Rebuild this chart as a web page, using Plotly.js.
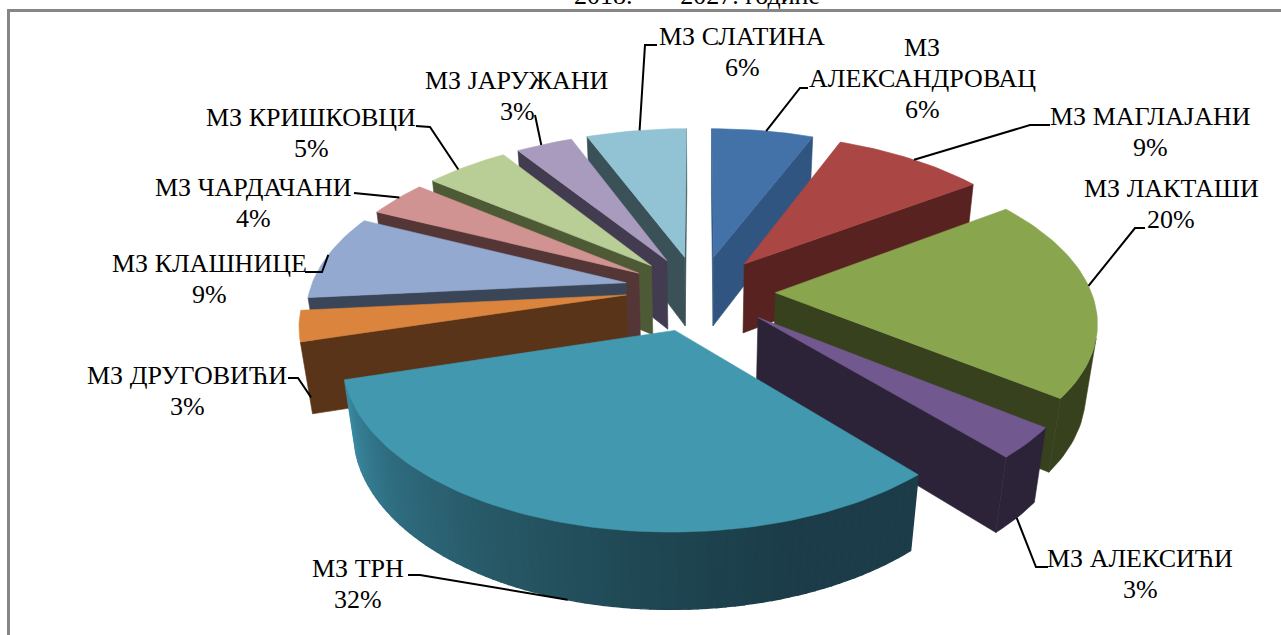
<!DOCTYPE html>
<html><head><meta charset="utf-8">
<script src="https://cdn.plot.ly/plotly-3.0.1.min.js"></script>
<style>html,body{margin:0;padding:0;background:#fff;overflow:hidden}</style>
</head><body><div id="chart" style="width:1281px;height:635px"></div>
<script>
// ---- data ----
const names = [['МЗ','АЛЕКСАНДРОВАЦ'],['МЗ МАГЛАЈАНИ'],['МЗ ЛАКТАШИ'],['МЗ АЛЕКСИЋИ'],['МЗ ТРН'],['МЗ ДРУГОВИЋИ'],['МЗ КЛАШНИЦЕ'],['МЗ ЧАРДАЧАНИ'],['МЗ КРИШКОВЦИ'],['МЗ ЈАРУЖАНИ'],['МЗ СЛАТИНА']];
const values = [6.1,9.1,20.2,3.1,32,3,8.5,3.6,5,3.4,6];
const titleText = '2018.\u00A0\u00A0\u00A0-\u00A0\u00A0\u00A02027. године';
// ---- style ----
const topColors  = ['#4372A8','#AA4643','#89A54E','#71588F','#4198AF','#DB843D','#93A9CF','#D19392','#B9CD96','#A99BBD','#92C3D4'];
const sideColors = ['#305580','#582220','#37411D','#2D2339','#1B3C48','#5A3418','#3B4558','#553636','#4E5A36','#433C50','#3A5158'];
const gradient   = ['#3A8BA2','#2F6C80','#275866','#1F4854','#1B3C48','#1B3C48'];
// ---- layout of the drawing ----
const explode = [.23,.23,.23,.23,.23,.23,.23,.23,.23,.23,.23];
const radius  = [1,1,.99,.98,.99,1,.99,1,1,1,1];
const shiftX = [0,0,2,3,-4,-1,-2,0,0,0,-2];
const shiftY = [0,0,0,0,2,-4,-3,0,0,0,0];
const view = {cx:700,cy:292,A:319,B:159,D:72,p:.158,q:.03};
const labelX = [922,1150,1171,1140,358,187,209,253,311,517,742];
const labelY = [47,116,188,558,568,375,263,187,117,80,36];
const lineGap = 31;
const elbowA = [[808,88],[1050,125],[1145,228],[1048,567],[408,575],[288,378],[305,272],[354,193],[416,126],[535,115],[657,45]];
const elbowB = [[800,88],[1030,125],[1135,228],[1036,567],[420,575],[298,378],[322,272],[385,196],[430,127],[535,115],[645,45]];
const anchors= [.5,.5,.46,.5,.5,.5,.5,.5,.42,.42,.5];

function project(X,Y,z,i){
  const w = 1 + view.p*Y + view.q*z;
  return [view.cx + shiftX[i] + view.A*X/w, view.cy + shiftY[i] - view.B*Y/w + view.D*z/w];
}
function hex(c){return [1,3,5].map(i=>parseInt(c.substr(i,2),16));}
function lerp(stops,t){
  const f=Math.min(.9999,Math.max(0,t))*(stops.length-1), i=Math.floor(f), a=hex(stops[i]), b=hex(stops[i+1]);
  return 'rgb('+a.map((v,k)=>Math.round(v+(b[k]-v)*(f-i))).join(',')+')';
}
function poly(pts,color,w){
  return {type:'scatter',mode:'lines',x:pts.map(p=>p[0]).concat(pts[0][0]),y:pts.map(p=>p[1]).concat(pts[0][1]),
    fill:'toself',fillcolor:color,line:{color:color,width:w||.6},hoverinfo:'skip',showlegend:false};
}
function area(q){let s=0;q.forEach((p,i)=>{const n=q[(i+1)%q.length];s+=p[0]*n[1]-n[0]*p[1];});return s;}

const total = values.reduce((a,b)=>a+b,0);
const slices=[]; let acc=0;
values.forEach((v,i)=>{
  const t0=acc/total*2*Math.PI; acc+=v; const t1=acc/total*2*Math.PI; const m=(t0+t1)/2;
  const ox=explode[i]*Math.sin(m), oy=explode[i]*Math.cos(m);
  const steps=Math.max(8,Math.round(v*2.5)), rim=[];
  for(let k=0;k<=steps;k++){const t=t0+(t1-t0)*k/steps;rim.push([ox+radius[i]*Math.sin(t),oy+radius[i]*Math.cos(t)]);}
  slices.push({i,m,ox,oy,rim,t0,t1});
});
const traces=[];
slices.slice().sort((a,b)=>Math.cos(b.m)-Math.cos(a.m)).forEach(s=>{
  const T=P=>project(P[0],P[1],0,s.i), Bt=P=>project(P[0],P[1],1,s.i), apex=[s.ox,s.oy];
  const ends=[[apex,s.rim[0]],[s.rim[s.rim.length-1],apex]];
  ends.forEach(e=>{
    const q=[T(e[0]),T(e[1]),Bt(e[1]),Bt(e[0])];
    if(area(q)<0) traces.push(poly(q,sideColors[s.i]));
  });
  const vis=[];
  for(let k=0;k<s.rim.length-1;k++){
    const q=[T(s.rim[k]),T(s.rim[k+1]),Bt(s.rim[k+1]),Bt(s.rim[k])];
    if(area(q)<0) vis.push(k);
  }
  if(vis.length){
    if(s.i===4){
      vis.forEach(k=>{
        const q=[T(s.rim[k]),T(s.rim[k+1]),Bt(s.rim[k+1]),Bt(s.rim[k])];
        traces.push(poly(q,lerp(gradient,1-(k/(s.rim.length-1))),1.4));
      });
    } else {
      const a=vis[0], b=vis[vis.length-1]+1, pts=[];
      for(let k=a;k<=b;k++)pts.push(T(s.rim[k]));
      for(let k=b;k>=a;k--)pts.push(Bt(s.rim[k]));
      traces.push(poly(pts,sideColors[s.i]));
    }
  }
  traces.push(poly([T(apex)].concat(s.rim.map(T)),topColors[s.i]));
});
// leader lines: from the rim of each slice to its label
slices.forEach(s=>{
  const r=s.rim[Math.round(anchors[s.i]*(s.rim.length-1))];
  const a=project(r[0],r[1],s.i===3||s.i===4||s.i===5?1:0,s.i);
  const pts=[a,elbowB[s.i],elbowA[s.i]];
  traces.push({type:'scatter',mode:'lines',x:pts.map(p=>p[0]),y:pts.map(p=>p[1]),line:{color:'#000',width:2},hoverinfo:'skip',showlegend:false});
});
const font={family:'Liberation Serif',size:26,color:'#000'};
const annotations=[];
names.forEach((lines,i)=>{
  lines.concat(Math.round(values[i])+'%').forEach((t,j)=>{
    annotations.push({x:labelX[i],y:labelY[i]+j*lineGap,xref:'x',yref:'y',text:t,showarrow:false,xanchor:'center',yanchor:'middle',font});
  });
});
annotations.push({x:697,y:0,xref:'x',yref:'y',yshift:5,text:titleText,showarrow:false,xanchor:'center',yanchor:'middle',font});
const layout={
  width:1281,height:635,margin:{l:0,r:0,t:0,b:0},paper_bgcolor:'#fff',plot_bgcolor:'#fff',showlegend:false,
  xaxis:{range:[0,1281],visible:false,fixedrange:true},
  yaxis:{range:[635,0],visible:false,fixedrange:true},
  annotations,
  shapes:[{type:'rect',xref:'x',yref:'y',x0:8.5,y0:10.5,x1:1320,y1:660,line:{color:'#868686',width:3},layer:'below'}]
};
Plotly.newPlot('chart',traces,layout,{displayModeBar:false,staticPlot:true});
</script></body></html>
